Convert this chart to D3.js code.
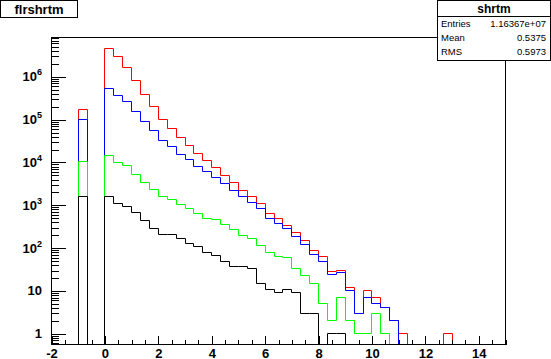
<!DOCTYPE html>
<html><head><meta charset="utf-8">
<script src="https://cdn.jsdelivr.net/npm/d3@7"></script>
<style>body{margin:0;background:#fff} svg{display:block}</style>
</head><body>
<script>
// ---- data ----
const xMin = -2, xMax = 15, binWidth = 1 / 3;
const xTickLabels = ["-2", "0", "2", "4", "6", "8", "10", "12", "14"];
const yTickLabels = [["1", ""], ["10", ""], ["10", "2"], ["10", "3"], ["10", "4"], ["10", "5"], ["10", "6"]];
const seriesNames = ["red", "blue", "green", "black"];
// bin contents, bins of width 1/3 starting at x = -2 (51 bins)
const redVals = [0,0,0,170000,0,0,
  4510000,2930000,1620000,808000,387000,200000,99300,61100,37700,24900,15900,10900,7510,4970,3360,2220,1580,1100,644,479,332,228,148,87,63,28,30,12,3,10,7,4,2,1,
  0,0,0,0,1,0,0,0,0,0,0];
const blueVals = [0,0,0,99300,0,0,
  525000,360000,261000,155000,90600,55000,32600,23200,15400,11600,8060,6060,4390,3180,2220,1610,1150,829,492,370,280,185,120,71,48,24,27,10,3,7,5,4,2,0,
  0,0,0,0,0,0,0,0,0,0,0];
const greenVals = [0,0,0,10400,0,0,
  14300,9840,8370,5160,3360,2300,1580,1350,1050,829,644,500,459,357,272,197,171,115,78,63,60,34,23,15,5,2,7,2,1,1,3,1,0,0,
  0,0,0,0,0,0,0,0,0,0,0];
const blackVals = [0,0,0,1580,0,0,
  1580,1100,923,668,435,292,205,205,168,130,111,80,67,49,37,37,33,15,11,9,11,9,3,3,0,1,1,0,0,0,0,0,0,0,
  0,0,0,0,0,0,0,0,0,0,0];
const statLabels = ["Entries", "Mean", "RMS"];
const statValues = ["1.16367e+07", "0.5375", "0.5973"];
const histTitle = "flrshrtm";
const statTitle = "shrtm";

// ---- drawing ----
const W = 551, H = 359;
const svg = d3.select("body").append("svg").attr("width", W).attr("height", H);
const colors = {red: "#ff0000", blue: "#0000ff", green: "#00ff00", black: "#000000"};
const series = {red: redVals, blue: blueVals, green: greenVals, black: blackVals};

const fL = 51.5, fR = 505.5, fT = 37.5, fB = 344.5;
const x = d3.scaleLinear().domain([xMin, xMax]).range([fL, fR]);
const y = d3.scaleLog().domain([0.562, 8.28e6]).range([fB, fT]);
const snap = v => Math.round(v - 0.5) + 0.5;

const font = "'Liberation Sans', Arial, Helvetica, sans-serif";

// histograms
seriesNames.forEach(name => {
  const vals = series[name];
  let d = `M${snap(x(xMin))},${fB}`;
  vals.forEach((v, i) => {
    const x0 = snap(x(xMin + i * binWidth)), x1 = snap(x(xMin + (i + 1) * binWidth));
    const yy = v > 0 ? snap(y(v)) : fB;
    d += `L${x0},${yy}L${x1},${yy}`;
  });
  d += `L${snap(x(xMax))},${fB}`;
  svg.append("path").attr("d", d).attr("fill", "none")
    .attr("stroke", colors[name]).attr("stroke-width", 1);
});

// frame
svg.append("rect").attr("x", fL).attr("y", fT).attr("width", fR - fL).attr("height", fB - fT)
  .attr("fill", "none").attr("stroke", "#000").attr("stroke-width", 1);

// y axis ticks (inside)
const yMajor = d3.range(0, 7).map(k => Math.pow(10, k));
const yMinor = [];
for (let k = -1; k <= 6; k++) for (let m = 2; m <= 9; m++) {
  const v = m * Math.pow(10, k);
  if (v >= y.domain()[0] && v <= y.domain()[1]) yMinor.push(v);
}
const yMajAx = d3.axisRight(y).tickValues(yMajor).tickSize(14).tickFormat("");
const yMinAx = d3.axisRight(y).tickValues(yMinor).tickSize(7).tickFormat("");
[yMajAx, yMinAx].forEach(ax => {
  const g = svg.append("g").attr("transform", `translate(${fL},0)`).call(ax);
  g.select(".domain").remove();
  g.selectAll("line").attr("stroke", "#000").attr("shape-rendering", "crispEdges");
});
// y labels
yMajor.forEach((v, i) => {
  const t = svg.append("text").attr("x", 42).attr("y", y(v) + 4.5)
    .attr("text-anchor", "end").attr("font-family", font).attr("font-weight", "bold")
    .attr("font-size", 13);
  t.append("tspan").text(yTickLabels[i][0]);
  if (yTickLabels[i][1]) t.append("tspan").attr("font-size", 9).attr("dy", -6).text(yTickLabels[i][1]);
});

// x axis ticks (inside, upward)
const xMajor = d3.range(-2, 15, 2);
const xMinor = d3.range(-2, 15.01, 0.5).filter(v => v % 2 !== 0);
const xMajAx = d3.axisTop(x).tickValues(xMajor).tickSize(9).tickFormat("");
const xMinAx = d3.axisTop(x).tickValues(xMinor).tickSize(4.5).tickFormat("");
[xMajAx, xMinAx].forEach(ax => {
  const g = svg.append("g").attr("transform", `translate(0,${fB})`).call(ax);
  g.select(".domain").remove();
  g.selectAll("line").attr("stroke", "#000").attr("shape-rendering", "crispEdges");
});
const xLab = d3.axisBottom(x).tickValues(xMajor).tickSize(0).tickPadding(0)
  .tickFormat((d, i) => xTickLabels[i]);
const gx = svg.append("g").attr("transform", `translate(0,${fB})`).call(xLab);
gx.select(".domain").remove();
gx.selectAll("text").attr("font-family", font).attr("font-weight", "bold").attr("font-size", 13)
  .attr("fill", "#000").attr("dy", null).attr("y", 13);

// title box
svg.append("rect").attr("x", 0.5).attr("y", 0.5).attr("width", 77).attr("height", 17)
  .attr("fill", "#fff").attr("stroke", "#000");
svg.append("text").attr("x", 39).attr("y", 14).attr("text-anchor", "middle")
  .attr("font-family", font).attr("font-weight", "bold").attr("font-size", 13).text(histTitle);

// stats box
const sx0 = 437.5, sx1 = 550.5, sy0 = 0.5, sy1 = 60.5;
svg.append("rect").attr("x", sx0).attr("y", sy0).attr("width", sx1 - sx0).attr("height", sy1 - sy0)
  .attr("fill", "#fff").attr("stroke", "#000");
svg.append("line").attr("x1", sx0).attr("x2", sx1).attr("y1", 16.5).attr("y2", 16.5).attr("stroke", "#000");
svg.append("text").attr("x", (sx0 + sx1) / 2).attr("y", 13).attr("text-anchor", "middle")
  .attr("font-family", font).attr("font-weight", "bold").attr("font-size", 12).text(statTitle);
statLabels.forEach((l, i) => {
  const yy = 27 + i * 14;
  svg.append("text").attr("x", 441).attr("y", yy).attr("font-family", font)
    .attr("font-size", 9.5).text(l);
  svg.append("text").attr("x", 546).attr("y", yy).attr("text-anchor", "end").attr("font-family", font)
    .attr("font-size", 9.5).text(statValues[i]);
});
</script>
</body></html>
